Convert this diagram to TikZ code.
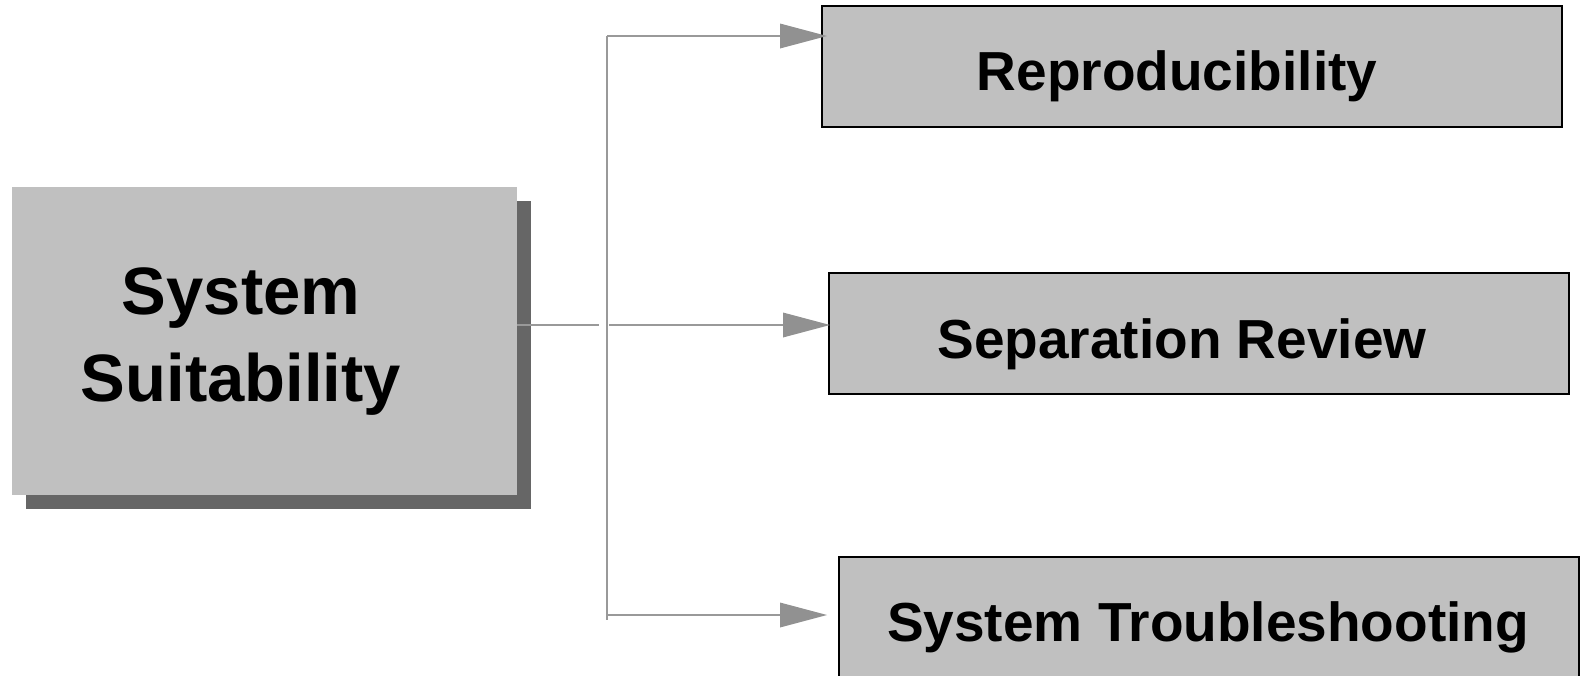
\documentclass[tikz,border=0pt]{standalone}
\usepackage{fontspec}
\setmainfont{Liberation Sans}
\usetikzlibrary{arrows.meta,shadows}
\definecolor{boxgray}{HTML}{C0C0C0}
\definecolor{shadowgray}{HTML}{666666}
\definecolor{linegray}{HTML}{999999}
\definecolor{tipgray}{HTML}{919191}
\begin{document}
\begin{tikzpicture}[x=1pt,y=-1pt,
  mainbox/.style={fill=boxgray, draw=none, minimum width=505pt, minimum height=308pt, inner sep=0pt,
    drop shadow={shadow xshift=14pt, shadow yshift=-14pt, fill=shadowgray, opacity=1}},
  topicbox/.style={fill=boxgray, draw=black, line width=2pt, minimum width=740pt, minimum height=121pt, inner sep=0pt},
  maintext/.style={anchor=base, font=\bfseries\fontsize{67}{85}\selectfont},
  topictext/.style={anchor=base, font=\bfseries\fontsize{55}{66}\selectfont},
  link/.style={draw=linegray, line width=2.4pt},
  arr/.style={link, -{Triangle[length=47pt,width=25pt,fill=tipgray,line width=0pt]}}]
\useasboundingbox (0,0) rectangle (1581,675);

% boxes
\node[mainbox] (main) at (264.5,341) {};
\node[topicbox] (r1) at (1191.5,66) {};
\node[topicbox] (r2) at (1198.5,333.5) {};
\node[topicbox] (r3) at (1208.5,617) {};

% labels
\node[maintext] (t0a) at (241,314) {System};
\node[maintext] (t0b) at (241,401) {Suitability};
\node[topictext] (t1) at (1177,90) {Reproducibility};
\node[topictext] (t2) at (1182,358) {Separation Review};
\node[topictext] (t3) at (1208,641) {System Troubleshooting};

% connectors
\coordinate (hub) at (607,325);
\coordinate (top) at (607,36);
\coordinate (bot) at (607,620);
\coordinate (e1) at (827,36);
\coordinate (e2) at (830,325);
\coordinate (e3) at (827,615);
\draw[link] (main.east |- hub) -- ([xshift=-8pt]hub);
\draw[link] (top) -- (bot);
\draw[arr] (top) -- (e1);
\draw[arr] ([xshift=2pt]hub) -- (e2);
\draw[arr] (top |- e3) -- (e3);
\end{tikzpicture}
\end{document}
